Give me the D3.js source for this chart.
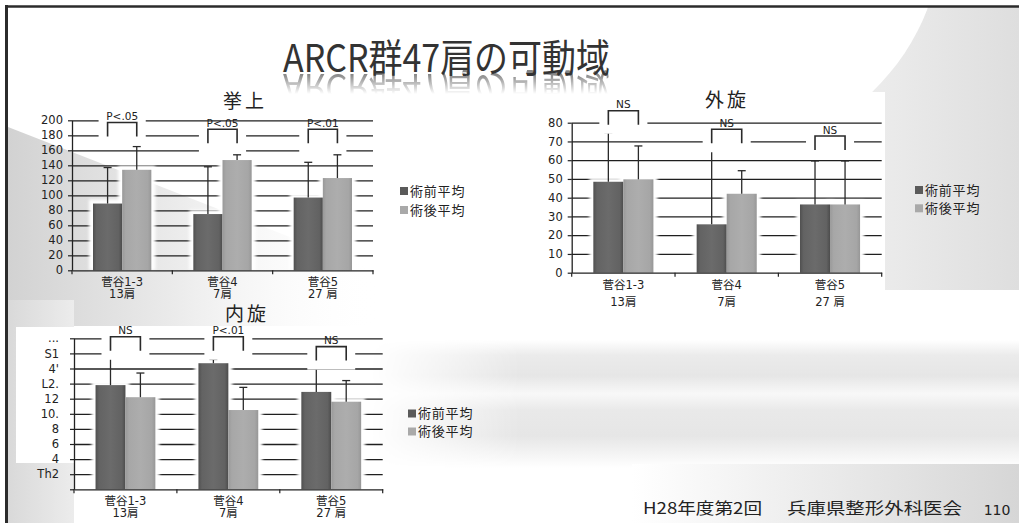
<!DOCTYPE html>
<html>
<head>
<meta charset="utf-8">
<script src="https://cdn.jsdelivr.net/npm/d3@7"></script>
<style>
  html, body { margin: 0; padding: 0; background: #fff; }
  svg { display: block; }
  text { font-family: "DejaVu Sans", "Noto Sans CJK JP", sans-serif; fill: #222; }
</style>
</head>
<body>
<svg id="slide" width="1019" height="523" xmlns="http://www.w3.org/2000/svg" xmlns:xlink="http://www.w3.org/1999/xlink"></svg>
<script>
// ---- data ----
const categories = ["菅谷1-3", "菅谷4", "菅谷5"];
const shoulderCounts = ["13肩", "7肩", "27 肩"];
const seriesNames = ["術前平均", "術後平均"];

// 挙上 (elevation, degrees)
const elevationPre = [89, 75, 97];
const elevationPost = [134, 147, 123];
const elevationPreSD = [48, 63, 47];
const elevationPostSD = [31, 7, 31];
const elevationTicks = [0, 20, 40, 60, 80, 100, 120, 140, 160, 180, 200];
const elevationSig = ["P<.05", "P<.05", "P<.01"];
const elevationBracket = [197, 188, 188];

// 外旋 (external rotation, degrees)
const externalPre = [48.5, 25.8, 36.4];
const externalPost = [49.8, 42.1, 36.4];
const externalPreSD = [26.2, 39.1, 23.2];
const externalPostSD = [17.8, 12.3, 23.2];
const externalTicks = [0, 10, 20, 30, 40, 50, 60, 70, 80];
const externalSig = ["NS", "NS", "NS"];
const externalBracket = [86.4, 76.5, 72.9];

// 内旋 (internal rotation, vertebral level index)
const internalPre = [13.8, 16.7, 12.9];
const internalPost = [12.2, 10.5, 11.6];
const internalPreSD = [4.7, 0.5, 3.3];
const internalPostSD = [3.2, 3.0, 2.8];
const internalTicks = [0, 2, 4, 6, 8, 10, 12, 14, 16, 18, 20];
const internalTickLabels = ["", "Th2", "4", "6", "8", "10.", "12", "L2.", "4'", "S1", "..."];
const internalSig = ["NS", "P<.01", "NS"];
const internalBracket = [20.2, 20.2, 18.9];

const slideTitle = "ARCR群47肩の可動域";
const footerEvent = "H28年度第2回";
const footerOrg = "兵庫県整形外科医会";
const pageNumber = "110";

// ---- drawing ----
const svg = d3.select("#slide");
const defs = svg.append("defs");

function linGrad(id, stops, coords, userSpace) {
  const g = defs.append("linearGradient").attr("id", id);
  if (userSpace) g.attr("gradientUnits", "userSpaceOnUse");
  Object.entries(coords).forEach(([k, v]) => g.attr(k, v));
  stops.forEach(([o, c, op]) => g.append("stop").attr("offset", o).attr("stop-color", c)
    .attr("stop-opacity", op === undefined ? 1 : op));
  return g;
}

linGrad("barDark", [[0, "#505050"], [0.12, "#636363"], [0.5, "#6b6b6b"], [0.88, "#626262"], [1, "#4c4c4c"]],
  { x1: 0, y1: 0, x2: 1, y2: 0 });
linGrad("barLight", [[0, "#999"], [0.12, "#a7a7a7"], [0.5, "#adadad"], [0.88, "#a6a6a6"], [1, "#979797"]],
  { x1: 0, y1: 0, x2: 1, y2: 0 });
linGrad("leftShade", [[0, "#d2d2d2"], [0.45, "#ebebeb"], [1, "#fff", 0]],
  { x1: 8, y1: 0, x2: 380, y2: 0 }, true);
linGrad("rightShade", [[0, "#f1f1f1"], [1, "#dedede"]], { x1: 0, y1: 0, x2: 1, y2: 0 });
linGrad("bandShade", [[0, "#fff"], [0.12, "#ebebeb"], [0.28, "#e6e6e6"], [0.42, "#f8f8f8"], [0.55, "#e9e9e9"],
  [0.75, "#e6e6e6"], [1, "#fff"]], { x1: 0, y1: 0, x2: 0, y2: 1 });
linGrad("bandFade", [[0, "#fff", 0], [1, "#fff", 1]], { x1: 370, y1: 0, x2: 520, y2: 0 }, true);
linGrad("bottomShade", [[0, "#fff"], [1, "#d6d6d6"]], { x1: 0, y1: 0, x2: 1, y2: 0 });
linGrad("cornerShade", [[0, "#d9d9d9"], [1, "#ececec"]], { x1: 0, y1: 0, x2: 1, y2: 0 });
// reflection fade, in the title's mirrored coordinates
linGrad("reflectFade", [[0, "#fff", 0.6], [1, "#fff", 0]], { x1: 0, y1: 74, x2: 0, y2: 94 }, true);

defs.append("filter").attr("id", "soft").attr("x", "-20%").attr("y", "-20%").attr("width", "140%").attr("height", "140%")
  .append("feGaussianBlur").attr("stdDeviation", 1.6);

const bandMask = defs.append("mask").attr("id", "bandMask");
bandMask.append("rect").attr("x", 0).attr("y", 0).attr("width", 1019).attr("height", 523).attr("fill", "url(#bandFade)");
const reflMask = defs.append("mask").attr("id", "reflMask").attr("maskUnits", "userSpaceOnUse")
  .attr("x", 0).attr("y", 0).attr("width", 1019).attr("height", 200);
reflMask.append("rect").attr("x", 0).attr("y", 60).attr("width", 1019).attr("height", 60).attr("fill", "url(#reflectFade)");

// background decoration
const bg = svg.append("g");
bg.append("rect").attr("width", 1019).attr("height", 523).attr("fill", "#fff");
bg.append("rect").attr("x", 820).attr("y", 6).attr("width", 199).attr("height", 284).attr("fill", "url(#rightShade)");
bg.append("ellipse").attr("cx", 640).attr("cy", -60).attr("rx", 300).attr("ry", 240).attr("fill", "#fff");
bg.append("rect").attr("x", 540).attr("y", 92).attr("width", 345).attr("height", 198).attr("fill", "#fff");
bg.append("rect").attr("x", 370).attr("y", 340).attr("width", 649).attr("height", 128)
  .attr("fill", "url(#bandShade)").attr("mask", "url(#bandMask)");
bg.append("rect").attr("x", 632).attr("y", 464).attr("width", 387).attr("height", 59).attr("fill", "url(#bottomShade)");
bg.append("path").attr("d", "M8,127 L8,326 L400,326 L400,280 Z").attr("fill", "url(#leftShade)");
bg.append("rect").attr("x", 8).attr("y", 300).attr("width", 66).attr("height", 223).attr("fill", "url(#cornerShade)");
bg.append("rect").attr("x", 16).attr("y", 327).attr("width", 58).attr("height", 136).attr("fill", "#fff");
// slide frame
bg.append("line").attr("x1", 5).attr("x2", 1019).attr("y1", 6.5).attr("y2", 6.5).attr("stroke", "#2b2b2b").attr("stroke-width", 2.5);
bg.append("line").attr("x1", 6.5).attr("x2", 6.5).attr("y1", 5).attr("y2", 523).attr("stroke", "#2b2b2b").attr("stroke-width", 3);

// slide title (slightly stretched vertically) with a soft mirrored reflection
const titleG = svg.append("g");
titleG.append("text").attr("id", "slideTitle")
  .attr("x", 283).attr("y", 0).attr("font-size", 34)
  .attr("transform", "translate(0,72) scale(1,1.13)")
  .style("font-family", "'Noto Sans CJK JP', sans-serif").style("fill", "#333")
  .attr("textLength", 327).attr("lengthAdjust", "spacingAndGlyphs").text(slideTitle);
titleG.append("g").attr("mask", "url(#reflMask)")
  .append("use").attr("href", "#slideTitle").attr("xlink:href", "#slideTitle")
  .attr("transform", "translate(0,146) scale(1,-1)")
  .style("fill", "#666");

// footer
svg.append("text").attr("x", 643).attr("y", 514).attr("font-size", 16)
  .style("font-family", "'Noto Sans CJK JP', sans-serif")
  .attr("textLength", 119).attr("lengthAdjust", "spacingAndGlyphs").text(footerEvent);
svg.append("text").attr("x", 787).attr("y", 514).attr("font-size", 16)
  .style("font-family", "'Noto Sans CJK JP', sans-serif")
  .attr("textLength", 175).attr("lengthAdjust", "spacingAndGlyphs").text(footerOrg);
svg.append("text").attr("x", 997).attr("y", 515).attr("font-size", 14).attr("text-anchor", "middle")
  .text(pageNumber);

function drawChart(o) {
  const g = svg.append("g");
  const { x0, x1, yTop, y0 } = o.frame;
  const y = d3.scaleLinear().domain([o.ticks[0], o.ticks[o.ticks.length - 1]]).range([y0, yTop]);
  const x = d3.scaleBand().domain(categories).range([x0, x1]).padding(0);
  const sub = d3.scaleBand().domain([0, 1]).range([0, x.bandwidth()]).paddingInner(0).paddingOuter(0.72);
  const cx = (c, s) => x(c) + sub(s) + sub.bandwidth() / 2;

  // gridlines
  g.append("g").attr("transform", `translate(${x0},0)`)
    .call(d3.axisLeft(y).tickValues(o.ticks.slice(1)).tickSize(-(x1 - x0)).tickFormat(""))
    .call(a => a.select(".domain").remove())
    .call(a => a.selectAll("line").attr("stroke", "#1f1f1f").attr("stroke-width", 1.3));

  const series = [
    { vals: o.pre, sd: o.preSD, fill: "url(#barDark)" },
    { vals: o.post, sd: o.postSD, fill: "url(#barLight)" }
  ];

  // white glow around the bars
  series.forEach((s, si) => {
    g.append("g").selectAll("rect").data(s.vals).join("rect")
      .attr("x", (d, i) => x(categories[i]) + sub(si) - 4)
      .attr("y", d => y(d) - 4)
      .attr("width", sub.bandwidth() + 8)
      .attr("height", d => y0 - y(d) + 4)
      .attr("fill", "#fff").attr("filter", "url(#soft)");
  });
  series.forEach((s, si) => {
    g.append("g").selectAll("rect").data(s.vals).join("rect")
      .attr("x", (d, i) => x(categories[i]) + sub(si))
      .attr("y", d => y(d))
      .attr("width", sub.bandwidth())
      .attr("height", d => y0 - y(d))
      .attr("fill", s.fill);
  });
  // error bars (upper whisker)
  series.forEach((s, si) => {
    const eg = g.append("g").attr("stroke", "#2a2a2a").attr("stroke-width", 1.3);
    s.vals.forEach((v, i) => {
      const c = cx(categories[i], si);
      eg.append("line").attr("x1", c).attr("x2", c).attr("y1", y(v)).attr("y2", y(v + s.sd[i]));
      eg.append("line").attr("x1", c - 4).attr("x2", c + 4).attr("y1", y(v + s.sd[i])).attr("y2", y(v + s.sd[i]));
    });
  });

  // y axis
  g.append("g").attr("transform", `translate(${x0},0)`)
    .call(d3.axisLeft(y).tickValues(o.ticks).tickSize(4).tickSizeOuter(0).tickPadding(o.tickPad)
      .tickFormat((d, i) => o.tickLabels ? o.tickLabels[i] : d))
    .call(a => a.attr("font-family", null).attr("font-size", null))
    .call(a => a.select(".domain").attr("stroke", "#222").attr("stroke-width", 1.3))
    .call(a => a.selectAll("line").attr("stroke", "#222").attr("stroke-width", 1.2))
    .call(a => a.selectAll("text").attr("font-size", 11.5).style("fill", "#222"));

  // x axis with ticks at the category boundaries
  g.append("g").attr("transform", `translate(0,${y0})`)
    .call(d3.axisBottom(x).tickSize(0).tickSizeOuter(0).tickFormat(""))
    .call(a => a.select(".domain").attr("stroke", "#222").attr("stroke-width", 1.3));
  const bounds = categories.map(c => x(c)).concat([x1]);
  g.append("g").selectAll("line").data(bounds).join("line")
    .attr("x1", d => d).attr("x2", d => d).attr("y1", y0).attr("y2", y0 + 4)
    .attr("stroke", "#222").attr("stroke-width", 1.2);

  // category labels (two lines)
  categories.forEach((c, i) => {
    g.append("text").attr("x", x(c) + x.bandwidth() / 2).attr("y", y0 + o.catDy[0])
      .attr("text-anchor", "middle").attr("font-size", 11.5).attr("dy", "0.35em").text(c);
    g.append("text").attr("x", x(c) + x.bandwidth() / 2).attr("y", y0 + o.catDy[1])
      .attr("text-anchor", "middle").attr("font-size", 11.5).attr("dy", "0.35em").text(shoulderCounts[i]);
  });

  // significance brackets
  categories.forEach((c, i) => {
    const xl = cx(c, 0), xr = cx(c, 1), top = y(o.bracket[i]);
    g.append("rect").attr("x", xl - 9).attr("y", top - 4).attr("width", xr - xl + 18).attr("height", 27)
      .attr("fill", "#fff");
    g.append("path").attr("d", `M${xl},${top + 14}V${top}H${xr}V${top + 14}`)
      .attr("fill", "none").attr("stroke", "#2a2a2a").attr("stroke-width", 1.6);
    g.append("text").attr("x", (xl + xr) / 2).attr("y", top - 6).attr("dy", "0.35em")
      .attr("text-anchor", "middle").attr("font-size", 10.5).text(o.sig[i]);
  });

  // chart title
  g.append("text").attr("x", o.titlePos[0]).attr("y", o.titlePos[1]).attr("dy", "0.35em")
    .attr("text-anchor", "middle").attr("font-size", 19).attr("letter-spacing", 3)
    .style("font-family", "'Noto Sans CJK JP', sans-serif").text(o.title);

  // legend
  seriesNames.forEach((n, i) => {
    g.append("rect").attr("x", o.legend[0]).attr("y", o.legend[1 + i] - 4).attr("width", 8).attr("height", 8)
      .attr("fill", i === 0 ? "#5a5a5a" : "#a9a9a9");
    g.append("text").attr("x", o.legend[0] + 10).attr("y", o.legend[1 + i]).attr("dy", "0.35em")
      .attr("font-size", 13).attr("letter-spacing", 0.8)
      .style("font-family", "'Noto Sans CJK JP', sans-serif").text(n);
  });
}

drawChart({
  title: "挙上", pre: elevationPre, post: elevationPost, preSD: elevationPreSD, postSD: elevationPostSD,
  ticks: elevationTicks, sig: elevationSig, bracket: elevationBracket, tickPad: 5,
  frame: { x0: 72, x1: 373, yTop: 120.3, y0: 270.3 },
  titlePos: [245, 101], legend: [400, 191, 210], catDy: [11.5, 23.5]
});
drawChart({
  title: "外旋", pre: externalPre, post: externalPost, preSD: externalPreSD, postSD: externalPostSD,
  ticks: externalTicks, sig: externalSig, bracket: externalBracket, tickPad: 5,
  frame: { x0: 571.7, x1: 881.7, yTop: 122.7, y0: 272.7 },
  titlePos: [727, 100.5], legend: [915, 190, 208.3], catDy: [12.3, 29]
});
drawChart({
  title: "内旋", pre: internalPre, post: internalPost, preSD: internalPreSD, postSD: internalPostSD,
  ticks: internalTicks, tickLabels: internalTickLabels, sig: internalSig, bracket: internalBracket, tickPad: 11,
  frame: { x0: 74, x1: 382.7, yTop: 338.3, y0: 489.3 },
  titlePos: [247, 314], legend: [408, 413.5, 431.5], catDy: [11.5, 23.5]
});
</script>
</body>
</html>
